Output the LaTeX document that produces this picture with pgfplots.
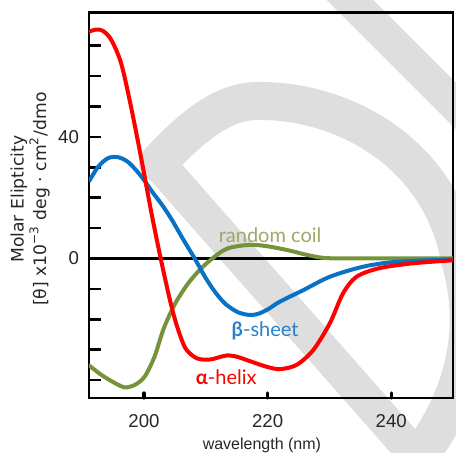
\documentclass[border=0pt]{standalone}
\usepackage{pgfplots}
\pgfplotsset{compat=1.18}
\usepackage{fontspec}
\setmainfont{Liberation Sans}
\newfontfamily\dejavu{DejaVu Sans}
\newfontfamily\lato{Lato}
\definecolor{cdred}{HTML}{FF0000}
\definecolor{cdblue}{HTML}{0A72C4}
\definecolor{cdgreen}{HTML}{76933C}
\definecolor{cdgreentext}{HTML}{9AAA6A}
\definecolor{cdbluetext}{HTML}{2A80C8}
\definecolor{wm}{HTML}{DEDEDE}
\begin{document}
\begin{tikzpicture}
% light grey watermark in the background (image pixel coordinates)
\begin{scope}[x=0.5pt,y=-0.5pt,shift={(-44.5pt,199pt)}]
\clip (0,0) rectangle (456,453);
\draw[wm, line width=16.5pt] (320,-30) -- (490,140);
\draw[wm, line width=17pt, line cap=round] (158,163) -- (418,458);
\draw[wm, line width=19pt, line cap=round] (158,163) .. controls (195,123) and (225,101) .. (258,101)
   .. controls (340,100) and (440,150) .. (460,260)
   .. controls (478,320) and (470,390) .. (418,458);
\end{scope}
\begin{axis}[
  scale only axis, width=182pt, height=192.75pt,
  xmin=191.1, xmax=250, ymin=-45.9, ymax=80.9,
  axis line style={line width=1.3pt, black},
  xtick={200,220,240},
  ytick={-40,-30,...,70},
  yticklabels={,,,,0,,,,40,,,},
  xtick pos=bottom, ytick pos=left, tick align=inside,
  major tick length=6pt,
  ytick style={line width=1.3pt, black},
  xtick style={line width=1.6pt, line cap=round, black, /pgfplots/major tick length=2.5pt},
  /pgf/number format/assume math mode=true,
  ticklabel style={font=\fontsize{9.3}{11}\selectfont, text=black!85},
  xticklabel style={yshift=-4.5pt},
  yticklabel style={xshift=-1.5pt},
  xlabel={wavelength (nm)},
  xlabel style={font=\fontsize{8}{10}\selectfont, text=black!85, at={(axis description cs:0.475,-0.122)}, anchor=center},
  ylabel={Molar Elipticity\\{}[θ] x10\textsuperscript{−3} deg · cm\textsuperscript{2}/dmo},
  ylabel style={font=\dejavu\fontsize{8.6}{11.25}\selectfont, text=black!85, align=center, at={(axis description cs:-0.162,0.516)}, anchor=center},
]
\addplot[black, line width=1.2pt] coordinates {(191.1,0) (250,0)};
% random coil
\addplot[cdgreen, line width=2pt, smooth] coordinates {
(191.0,-35.0) (193.1,-38.3) (195.3,-41.0) (196.9,-42.4) (198.5,-41.6) (200.1,-38.9)
(201.7,-32.3) (203.2,-23.0) (205.0,-15.0) (207.0,-8.6) (209.0,-3.8) (211.0,-0.1) (213.4,3.2)
(216.6,4.4) (219.3,4.2) (223.1,2.8) (226.3,1.2) (229.0,0.2) (233.0,0.0) (250.0,0.0)};
% beta sheet
\addplot[cdblue, line width=2pt, smooth] coordinates {
(191.1,25.3) (192.6,30.2) (194.2,33.0) (195.8,33.3) (197.5,31.6) (199.6,26.9)
(201.3,22.0) (203.0,17.4) (204.6,12.4) (206.3,6.4) (208.2,0.0) (210.0,-6.5)
(211.6,-11.3) (213.2,-15.0) (215.2,-17.7) (217.1,-18.6) (218.5,-18.2) (220.0,-16.8)
(222.0,-14.2) (225.8,-10.4) (230.1,-6.0) (235.5,-2.7) (240.9,-1.1) (250.0,-0.3)};
% alpha helix
\addplot[cdred, line width=2pt, smooth] coordinates {
(191.1,74.6) (192.3,75.3) (193.4,74.8) (194.7,71.9) (196.3,64.2) (197.9,49.9)
(199.6,32.4) (201.2,15.0) (202.7,0.0) (204.2,-13.7) (205.3,-22.0) (206.7,-29.5)
(208.5,-32.8) (210.5,-33.3) (212.0,-32.6) (213.4,-31.9) (215.0,-32.3) (216.6,-33.4)
(219.8,-35.6) (222.0,-36.4) (224.7,-35.0) (227.4,-30.1) (230.1,-21.2) (232.2,-11.5)
(234.4,-6.0) (238.1,-3.2) (243.5,-1.6) (250.0,-0.6)};
\node[font=\lato\fontsize{10}{12}\selectfont, text=cdgreentext, anchor=base] at (axis cs:220.4,5.4) {random coil};
\node[font=\lato\fontsize{10}{12}\selectfont, text=cdbluetext, anchor=base] at (axis cs:219.6,-25.7) {{\bfseries β}-sheet};
\node[font=\lato\fontsize{10}{12}\selectfont, text=cdred, anchor=base] at (axis cs:213.3,-41.6) {{\bfseries α}-helix};
\end{axis}
\pgfresetboundingbox
\useasboundingbox (-44.5pt,-27.5pt) rectangle (183.5pt,199pt);
\end{tikzpicture}
\end{document}
